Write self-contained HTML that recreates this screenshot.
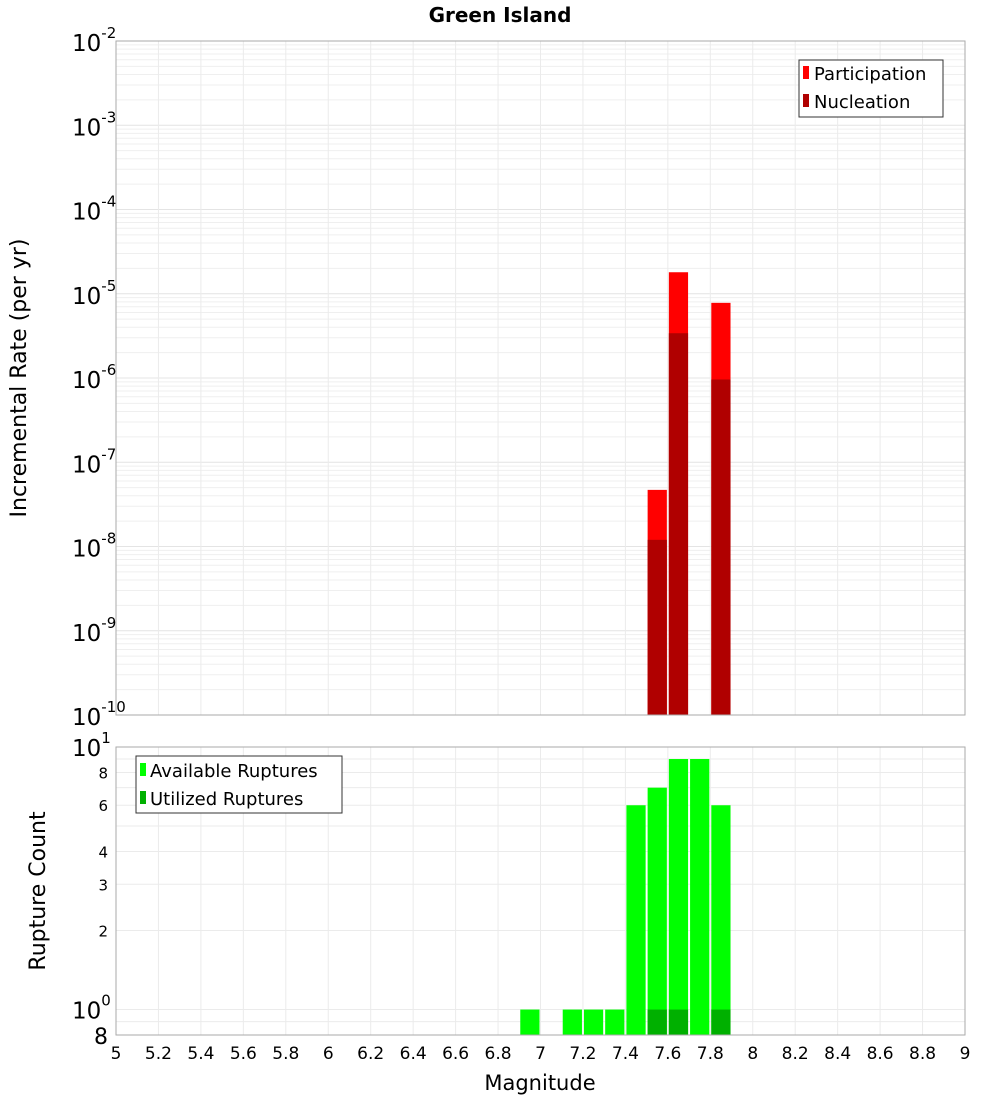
<!DOCTYPE html>
<html><head><meta charset="utf-8"><style>
body{margin:0;background:#fff;}
svg text{font-family:"DejaVu Sans","Liberation Sans",sans-serif;}
</style></head><body>
<svg id="c" width="1000" height="1100" xmlns="http://www.w3.org/2000/svg">
<text x="500" y="22" text-anchor="middle" font-size="20" font-weight="bold">Green Island</text>
<g id="gtop"></g><g id="gbot"></g>
<text transform="translate(26,378) rotate(-90)" text-anchor="middle" font-size="22">Incremental Rate (per yr)</text>
<text transform="translate(45,891) rotate(-90)" text-anchor="middle" font-size="22">Rupture Count</text>
<text x="540" y="1090" text-anchor="middle" font-size="21">Magnitude</text>
<g>
<rect x="799" y="60" width="144" height="57" fill="#fff" stroke="#333"/>
<rect x="803" y="66" width="6" height="13" fill="#ff0000"/><text x="814" y="80" font-size="18">Participation</text>
<rect x="803" y="94" width="6" height="13" fill="#b00000"/><text x="814" y="108" font-size="18">Nucleation</text>
</g>
<g>
<rect x="136" y="756" width="206" height="57" fill="#fff" stroke="#333"/>
<rect x="140" y="763" width="6" height="13" fill="#00ff00"/><text x="150" y="777" font-size="18">Available Ruptures</text>
<rect x="140" y="791" width="6" height="13" fill="#00b000"/><text x="150" y="805" font-size="18">Utilized Ruptures</text>
</g>
</svg>
<script>
const binStarts=[5.0,5.1,5.2,5.3,5.4,5.5,5.6,5.7,5.8,5.9,6.0,6.1,6.2,6.3,6.4,6.5,6.6,6.7,6.8,6.9,7.0,7.1,7.2,7.3,7.4,7.5,7.6,7.7,7.8];
const participation=[0,0,0,0,0,0,0,0,0,0,0,0,0,0,0,0,0,0,0,0,0,0,0,0,0,4.7e-8,1.8e-5,0,7.8e-6];
const nucleation=[0,0,0,0,0,0,0,0,0,0,0,0,0,0,0,0,0,0,0,0,0,0,0,0,0,1.2e-8,3.4e-6,0,9.6e-7];
const available=[0,0,0,0,0,0,0,0,0,0,0,0,0,0,0,0,0,0,0,1,0,1,1,1,6,7,9,9,6];
const utilized=[0,0,0,0,0,0,0,0,0,0,0,0,0,0,0,0,0,0,0,0,0,0,0,0,0,1,1,0,1];
const xTicks=[5,5.2,5.4,5.6,5.8,6,6.2,6.4,6.6,6.8,7,7.2,7.4,7.6,7.8,8,8.2,8.4,8.6,8.8,9];
const topExps=[-2,-3,-4,-5,-6,-7,-8,-9,-10];
const botMinor=[2,3,4,6,8];
const NS='http://www.w3.org/2000/svg';
const L=116,R=965,T1=41,B1=715,T2=747,B2=1035;
const xs=m=>L+(m-5)/4*(R-L);
const y1=v=>T1+(-2-Math.log10(v))/8*(B1-T1);
const y2=v=>T2+(1-Math.log10(v))/(1-Math.log10(0.8))*(B2-T2);
function mk(p,t,a){const e=document.createElementNS(NS,t);for(const k in a)e.setAttribute(k,a[k]);p.appendChild(e);return e;}
const gTop=document.getElementById('gtop'),gBot=document.getElementById('gbot');
for(let e=-10;e<-2;e++)for(let k=1;k<10;k++){const yy=y1(k*Math.pow(10,e));const g=mk(gTop,'line',{x1:L,x2:R,y1:yy,y2:yy,stroke:k==1?'#e4e4e4':'#efefef'});

}
for(const v of [0.8,0.9,1,2,3,4,5,6,7,8,9]){const yy=y2(v);const g=mk(gBot,'line',{x1:L,x2:R,y1:yy,y2:yy,stroke:'#ebebeb'});

}
xTicks.forEach(t=>{const xx=xs(t);
const g1=mk(gTop,'line',{x1:xx,x2:xx,y1:T1,y2:B1,stroke:'#ebebeb'});


const g2=mk(gBot,'line',{x1:xx,x2:xx,y1:T2,y2:B2,stroke:'#ebebeb'});


const tx=mk(gBot,'text',{x:xx,y:1059,'text-anchor':'middle','font-size':17});tx.textContent=String(t);

});
const bw=(R-L)/40;
binStarts.forEach((s,i)=>{
 const xx=xs(s)+1,w=bw-2;
 if(participation[i]>0){const r=mk(gTop,'rect',{x:xx,y:y1(participation[i]),width:w,height:B1-y1(participation[i]),fill:'#ff0000'});
 
 }
 if(nucleation[i]>0){const r=mk(gTop,'rect',{x:xx,y:y1(nucleation[i]),width:w,height:B1-y1(nucleation[i]),fill:'#b00000'});
 
 }
 if(available[i]>0){const r=mk(gBot,'rect',{x:xx,y:y2(available[i]),width:w,height:B2-y2(available[i]),fill:'#00ff00'});
 
 }
 if(utilized[i]>0){const r=mk(gBot,'rect',{x:xx,y:y2(utilized[i]),width:w,height:B2-y2(utilized[i]),fill:'#00b000'});
 
 }
});
const f1=mk(gTop,'rect',{x:L,y:T1,width:R-L,height:B1-T1,fill:'none',stroke:'#aaa'});


const f2=mk(gBot,'rect',{x:L,y:T2,width:R-L,height:B2-T2,fill:'none',stroke:'#aaa'});


topExps.forEach(e=>{const yy=y1(Math.pow(10,e));
 const t=mk(gTop,'text',{x:72,y:yy+10,'font-size':23});
 
 
 t.textContent='10';const s=mk(t,'tspan',{dy:-13,'font-size':15});s.textContent=String(e);});
[[10,'1'],[1,'0']].forEach(([v,e])=>{const t=mk(gBot,'text',{x:72,y:y2(v)+9,'font-size':23});
 
 
 t.textContent='10';const s=mk(t,'tspan',{dy:-13,'font-size':15});s.textContent=e;});
botMinor.forEach(v=>{const t=mk(gBot,'text',{x:108,y:y2(v)+6,'font-size':15,'text-anchor':'end'});t.textContent=String(v);
 
 });
const t8=mk(gBot,'text',{x:108,y:B2+9,'font-size':22,'text-anchor':'end'});t8.textContent='8';


</script>
</body></html>
